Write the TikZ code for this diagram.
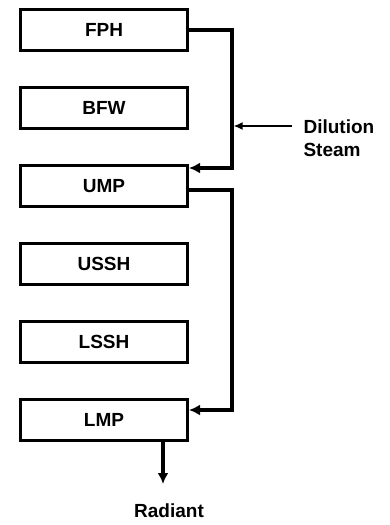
\documentclass[tikz,border=0pt]{standalone}
\usepackage{fontspec}
\setmainfont{Liberation Sans}
\usetikzlibrary{arrows.meta,positioning}

\begin{document}
\begin{tikzpicture}[x=1pt,y=-1pt,
    unit/.style={draw, line width=3pt, minimum width=167pt, minimum height=41pt,
        inner sep=0pt, font=\fontsize{19}{21}\selectfont\bfseries},
    flow/.style={line width=3.2pt, -{Latex[length=11pt,width=11pt]}},
    feed/.style={line width=1.6pt, -{Latex[length=9pt,width=8pt]}},
    label/.style={font=\fontsize{19}{23}\selectfont\bfseries}]

\useasboundingbox (0,0) rectangle (390,525);

% Convection section banks
\node[unit] (FPH) at (104,30) {FPH};
\node[unit, below=34pt of FPH] (BFW) {BFW};
\node[unit, below=34pt of BFW] (UMP) {UMP};
\node[unit, below=34pt of UMP] (USSH) {USSH};
\node[unit, below=34pt of USSH] (LSSH) {LSSH};
\node[unit, below=34pt of LSSH] (LMP) {LMP};

% Labels
\node[label, align=left, anchor=west] (steam) at (300,138) {Dilution\\Steam};
\node[label] (radiant) at (169,511) {Radiant};

% Return lines
\coordinate (rail) at (232,0);
\draw[flow] (FPH.east) -- (FPH.east -| rail) |- ([yshift=-4pt]UMP.north east);
\draw[flow] ([yshift=-4pt]UMP.east) -- ([yshift=-4pt]UMP.east -| rail) |- ([yshift=10pt]LMP.east);

% Dilution steam
\coordinate (steamin) at (292,126);
\draw[feed] (steamin) -- ([xshift=1.6pt]steamin -| rail);

% To radiant section
\coordinate (outlet) at (163,484);
\draw[flow] (LMP.south -| outlet) -- (outlet);

\end{tikzpicture}
\end{document}
